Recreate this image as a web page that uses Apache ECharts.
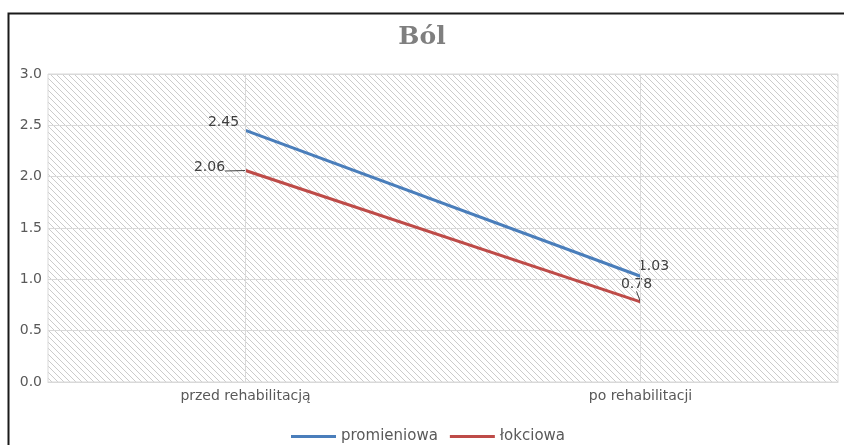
<!DOCTYPE html>
<html>
<head>
<meta charset="utf-8">
<script src="https://cdn.jsdelivr.net/npm/echarts@6/dist/echarts.min.js"></script>
<style>
  html, body { margin: 0; padding: 0; background: #fff; }
  #main { width: 844px; height: 445px; }
</style>
</head>
<body>
<div id="main"></div>
<script>
// Ból - promieniowa vs łokciowa
var categories = ['przed rehabilitacją', 'po rehabilitacji'];
var promieniowa = [2.45, 1.03];
var lokciowa = [2.06, 0.78];
var yTicks = [0, 0.5, 1, 1.5, 2, 2.5, 3];

var dom = document.getElementById('main');
var myChart = echarts.init(dom);

// diagonal hatch for the plot area
var hatch = document.createElement('canvas');
hatch.width = 6;
hatch.height = 6;
var ctx = hatch.getContext('2d');
ctx.strokeStyle = '#cbcbcb';
ctx.lineWidth = 1;
ctx.beginPath();
ctx.moveTo(-1, -1); ctx.lineTo(7, 7);
ctx.moveTo(-1, 5); ctx.lineTo(1, 7);
ctx.moveTo(5, -1); ctx.lineTo(7, 1);
ctx.stroke();

// label offsets (dx, dy) from default top position
var labelMoves = [
    [[-22, 4], [13, 3]],
    [[-36, 17], [-4, -5]]
];

var font = 'DejaVu Sans';

// first łokciowa label gets bottom padding so its leader line runs flat
var lokciowaData = lokciowa.map(function (v, i) {
    if (i === 0) {
        return {
            value: v,
            label: { padding: [0, 0, 8, 0], backgroundColor: 'rgba(255,255,255,0)' }
        };
    }
    return { value: v };
});

var option = {
    animation: false,
    title: {
        text: 'Ból',
        left: 'center',
        top: 20,
        textStyle: {
            fontFamily: 'DejaVu Serif',
            fontSize: 25,
            fontWeight: 'bold',
            color: '#7f7f7f'
        }
    },
    graphic: [{
        type: 'rect',
        left: 6,
        top: 11,
        shape: { width: 900, height: 500 },
        style: { fill: 'none', stroke: '#1a1a1a', lineWidth: 2 },
        silent: true
    }],
    legend: {
        top: 424,
        left: 286,
        itemWidth: 45,
        itemHeight: 3,
        itemGap: 12,
        icon: 'rect',
        textStyle: { fontFamily: font, fontSize: 15, color: '#595959' },
        data: ['promieniowa', 'łokciowa']
    },
    grid: {
        left: 48,
        right: 6,
        top: 74,
        bottom: 63,
        show: true,
        borderWidth: 1,
        borderColor: '#d9d9d9',
        backgroundColor: { image: hatch, repeat: 'repeat' }
    },
    xAxis: {
        type: 'category',
        data: categories,
        boundaryGap: true,
        axisLine: { lineStyle: { color: '#d9d9d9', width: 1 } },
        axisTick: { show: false },
        axisLabel: { fontFamily: font, fontSize: 14, color: '#595959', margin: 7 },
        splitLine: { show: false }
    },
    yAxis: {
        type: 'value',
        min: yTicks[0],
        max: yTicks[yTicks.length - 1],
        interval: 0.5,
        axisLine: { show: false },
        axisTick: { show: false },
        axisLabel: {
            fontFamily: font, fontSize: 14, color: '#595959', margin: 6,
            formatter: function (v) { return v.toFixed(1); }
        },
        splitLine: { lineStyle: { color: '#d9d9d9', width: 1 } }
    },
    series: [
        {
            // vertical grid lines through the categories
            name: 'siatka',
            type: 'line',
            data: [],
            silent: true,
            markLine: {
                silent: true,
                symbol: 'none',
                label: { show: false },
                lineStyle: { color: '#d9d9d9', width: 1, type: 'solid' },
                data: categories.map(function (c) { return { xAxis: c }; })
            },
            z: 1
        },
        {
            name: 'promieniowa',
            type: 'line',
            data: promieniowa,
            symbol: 'circle',
            symbolSize: 1,
            showSymbol: true,
            lineStyle: { color: '#4a7ebb', width: 3 },
            itemStyle: { color: '#4a7ebb' },
            label: {
                show: true, position: 'top',
                fontFamily: font, fontSize: 14, color: '#404040',
                formatter: function (p) { return p.value.toFixed(2); }
            },
            labelLine: { show: false },
            labelLayout: function (p) {
                var m = labelMoves[0][p.dataIndex];
                return { dx: m[0], dy: m[1] };
            },
            z: 3
        },
        {
            name: 'łokciowa',
            type: 'line',
            data: lokciowaData,
            symbol: 'circle',
            symbolSize: 1,
            showSymbol: true,
            lineStyle: { color: '#be4b48', width: 3 },
            itemStyle: { color: '#be4b48' },
            label: {
                show: true, position: 'top',
                fontFamily: font, fontSize: 14, color: '#404040',
                formatter: function (p) { return p.value.toFixed(2); }
            },
            labelLine: { show: true, lineStyle: { color: '#404040', width: 1 } },
            labelLayout: function (p) {
                var m = labelMoves[1][p.dataIndex];
                return { dx: m[0], dy: m[1] };
            },
            z: 4
        }
    ]
};

if (option && typeof option === 'object') {
    myChart.setOption(option);
}
</script>
</body>
</html>
